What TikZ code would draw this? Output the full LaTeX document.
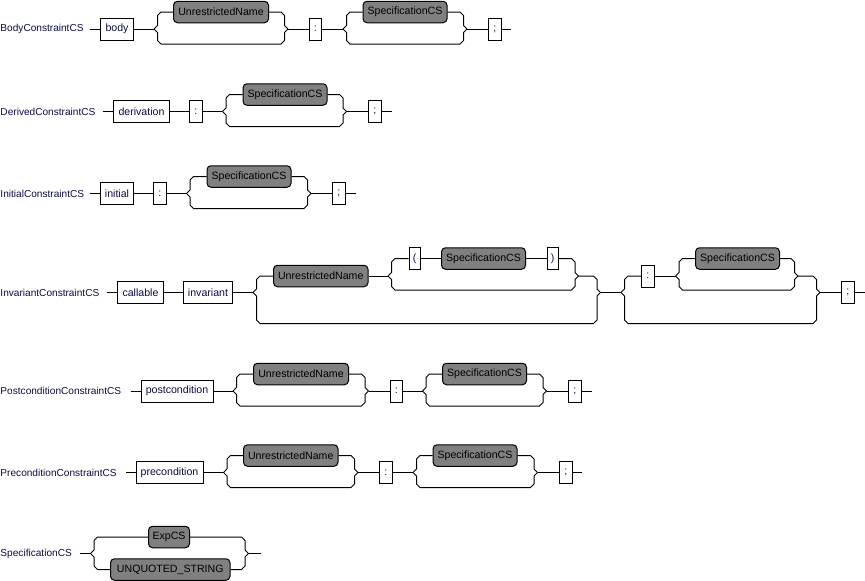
\documentclass[tikz,border=0pt]{standalone}
\usepackage{fontspec}
\setmainfont{Liberation Sans}
\usetikzlibrary{calc}
\definecolor{navy}{RGB}{12,12,68}
\definecolor{ntgray}{RGB}{128,128,128}
\newcommand\rrUpL[2]{\draw (#1) -- ++(3.5,-3.5) -- ($(#1 |- #2)+(3.5,3.5)$) -- ($(#1 |- #2)+(7,0)$) -- (#2);}
\newcommand\rrUpR[2]{\draw (#2) -- ($(#1 |- #2)+(-7,0)$) -- ($(#1 |- #2)+(-3.5,3.5)$) -- ($(#1)+(-3.5,-3.5)$) -- (#1);}
\newcommand\rrLow[3]{\draw (#1) -- ++(3.5,3.5) -- ($(#1)+(3.5,#3-3.5)$) -- ($(#1)+(7,#3)$) -- ($(#2)+(-7,#3)$) -- ($(#2)+(-3.5,#3-3.5)$) -- ($(#2)+(-3.5,3.5)$) -- (#2);}
\newcommand\rrLowL[2]{\draw (#1) -- ++(3.5,3.5) -- ($(#1 |- #2)+(3.5,-3.5)$) -- ($(#1 |- #2)+(7,0)$) -- (#2);}
\newcommand\rrLowR[2]{\draw (#2) -- ($(#1 |- #2)+(-7,0)$) -- ($(#1 |- #2)+(-3.5,-3.5)$) -- ($(#1)+(-3.5,3.5)$) -- (#1);}
\begin{document}
\begin{tikzpicture}[x=1pt,y=-1pt,line width=1pt,
  every node/.style={font=\fontsize{10.6}{12}\selectfont},
  lbl/.style={anchor=west,inner sep=0,text=navy,font=\fontsize{10.1}{12}\selectfont},
  term/.style={draw,fill=white,anchor=west,minimum height=22,inner sep=0,text=navy},
  nonterm/.style={draw,fill=ntgray,rounded corners=4,anchor=west,minimum height=21.5,inner sep=0,text=black}]
\useasboundingbox (0,0) rectangle (865,581);

% ---------- Row 1: BodyConstraintCS
\node[lbl] (L1) at (0,29) {BodyConstraintCS};
\coordinate (a1) at (90,29);
\node[term,minimum width=33] (body) at (100,29) {body};
\coordinate (s1a) at (154,29);
\node[nonterm,minimum width=95] (un1) at (173,12) {UnrestrictedName};
\coordinate (m1a) at (288,29);
\node[term,minimum width=12.5] (c1) at (308.5,29) {:};
\coordinate (s1b) at (343,29);
\node[nonterm,minimum width=84] (sp1) at (362.5,12) {SpecificationCS};
\coordinate (m1b) at (467,29);
\node[term,minimum width=12.5] (sc1) at (488,29) {;};
\coordinate (e1) at (511,29);
\draw (a1) -- (body.west);
\draw (body.east) -- (s1a);
\rrUpL{s1a}{un1.west} \rrUpR{m1a}{un1.east} \rrLow{s1a}{m1a}{15}
\draw (m1a) -- (c1.west);
\draw (c1.east) -- (s1b);
\rrUpL{s1b}{sp1.west} \rrUpR{m1b}{sp1.east} \rrLow{s1b}{m1b}{15}
\draw (m1b) -- (sc1.west);
\draw (sc1.east) -- (e1);

% ---------- Row 2: DerivedConstraintCS
\node[lbl] (L2) at (0,111.5) {DerivedConstraintCS};
\coordinate (a2) at (103,111.5);
\node[term,minimum width=56] (deriv) at (113,111.5) {derivation};
\node[term,minimum width=12.5] (c2) at (189,111.5) {:};
\coordinate (s2) at (222.5,111.5);
\node[nonterm,minimum width=84] (sp2) at (242.5,94.5) {SpecificationCS};
\coordinate (m2) at (346.5,111.5);
\node[term,minimum width=12.5] (sc2) at (368,111.5) {;};
\coordinate (e2) at (391.5,111.5);
\draw (a2) -- (deriv.west);
\draw (deriv.east) -- (c2.west);
\draw (c2.east) -- (s2);
\rrUpL{s2}{sp2.west} \rrUpR{m2}{sp2.east} \rrLow{s2}{m2}{15}
\draw (m2) -- (sc2.west);
\draw (sc2.east) -- (e2);

% ---------- Row 3: InitialConstraintCS
\node[lbl] (L3) at (0,193.5) {InitialConstraintCS};
\coordinate (a3) at (90,193.5);
\node[term,minimum width=33] (init) at (100,193.5) {initial};
\node[term,minimum width=12.5] (c3) at (153,193.5) {:};
\coordinate (s3) at (186.5,193.5);
\node[nonterm,minimum width=84] (sp3) at (206.5,176.5) {SpecificationCS};
\coordinate (m3) at (311,193.5);
\node[term,minimum width=12.5] (sc3) at (332,193.5) {;};
\coordinate (e3) at (356,193.5);
\draw (a3) -- (init.west);
\draw (init.east) -- (c3.west);
\draw (c3.east) -- (s3);
\rrUpL{s3}{sp3.west} \rrUpR{m3}{sp3.east} \rrLow{s3}{m3}{15}
\draw (m3) -- (sc3.west);
\draw (sc3.east) -- (e3);

% ---------- Row 4: InvariantConstraintCS
\node[lbl] (L4) at (0,292.5) {InvariantConstraintCS};
\coordinate (a4) at (107,292.5);
\node[term,minimum width=46] (call) at (117,292.5) {callable};
\node[term,minimum width=49] (inv) at (183,292.5) {invariant};
\coordinate (os1) at (253,292.5);
\node[nonterm,minimum width=94.5] (un4) at (273,276) {UnrestrictedName};
\coordinate (is1) at (388,276);
\node[term,minimum width=11.5] (lp) at (408.5,258.5) {(};
\node[nonterm,minimum width=84] (sp4a) at (441,258.5) {SpecificationCS};
\node[term,minimum width=11.5] (rp) at (546.5,258.5) {)};
\coordinate (im1) at (578.5,276);
\coordinate (om1) at (600.5,292.5);
\coordinate (os2) at (621,292.5);
\node[term,minimum width=12.5] (c4) at (641,276) {:};
\coordinate (is2) at (675.5,276);
\node[nonterm,minimum width=84] (sp4b) at (695,258.5) {SpecificationCS};
\coordinate (im2) at (798,276);
\coordinate (om2) at (820,292.5);
\node[term,minimum width=12.5] (sc4) at (841,292.5) {;};
\coordinate (e4) at (865,292.5);
\draw (a4) -- (call.west);
\draw (call.east) -- (inv.west);
\draw (inv.east) -- (os1);
\rrUpL{os1}{un4.west}
\draw (un4.east) -- (is1);
\rrUpL{is1}{lp.west}
\draw (lp.east) -- (sp4a.west);
\draw (sp4a.east) -- (rp.west);
\rrUpR{im1}{rp.east}
\rrLow{is1}{im1}{14}
\rrUpR{om1}{im1}
\rrLow{os1}{om1}{31}
\draw (om1) -- (os2);
\rrUpL{os2}{c4.west}
\draw (c4.east) -- (is2);
\rrUpL{is2}{sp4b.west} \rrUpR{im2}{sp4b.east} \rrLow{is2}{im2}{14}
\rrUpR{om2}{im2}
\rrLow{os2}{om2}{31}
\draw (om2) -- (sc4.west);
\draw (sc4.east) -- (e4);

% ---------- Row 5: PostconditionConstraintCS
\node[lbl] (L5) at (0,391) {PostconditionConstraintCS};
\coordinate (a5) at (130.5,391);
\node[term,minimum width=72] (post) at (140.5,391) {postcondition};
\coordinate (s5a) at (233,391);
\node[nonterm,minimum width=95] (un5) at (253,374) {UnrestrictedName};
\coordinate (m5a) at (368.5,391);
\node[term,minimum width=12.5] (c5) at (389.5,391) {:};
\coordinate (s5b) at (422.5,391);
\node[nonterm,minimum width=84] (sp5) at (442,374) {SpecificationCS};
\coordinate (m5b) at (546.5,391);
\node[term,minimum width=12.5] (sc5) at (568,391) {;};
\coordinate (e5) at (591.5,391);
\draw (a5) -- (post.west);
\draw (post.east) -- (s5a);
\rrUpL{s5a}{un5.west} \rrUpR{m5a}{un5.east} \rrLow{s5a}{m5a}{15}
\draw (m5a) -- (c5.west);
\draw (c5.east) -- (s5b);
\rrUpL{s5b}{sp5.west} \rrUpR{m5b}{sp5.east} \rrLow{s5b}{m5b}{15}
\draw (m5b) -- (sc5.west);
\draw (sc5.east) -- (e5);

% ---------- Row 6: PreconditionConstraintCS
\node[lbl] (L6) at (0,472.5) {PreconditionConstraintCS};
\coordinate (a6) at (126,472.5);
\node[term,minimum width=67] (pre) at (135.5,472.5) {precondition};
\coordinate (s6a) at (223.5,472.5);
\node[nonterm,minimum width=94.5] (un6) at (243,455.5) {UnrestrictedName};
\coordinate (m6a) at (358,472.5);
\node[term,minimum width=12.5] (c6) at (379,472.5) {:};
\coordinate (s6b) at (413,472.5);
\node[nonterm,minimum width=84] (sp6) at (432.5,455.5) {SpecificationCS};
\coordinate (m6b) at (537.5,472.5);
\node[term,minimum width=12.5] (sc6) at (559,472.5) {;};
\coordinate (e6) at (582,472.5);
\draw (a6) -- (pre.west);
\draw (pre.east) -- (s6a);
\rrUpL{s6a}{un6.west} \rrUpR{m6a}{un6.east} \rrLow{s6a}{m6a}{15}
\draw (m6a) -- (c6.west);
\draw (c6.east) -- (s6b);
\rrUpL{s6b}{sp6.west} \rrUpR{m6b}{sp6.east} \rrLow{s6b}{m6b}{15}
\draw (m6b) -- (sc6.west);
\draw (sc6.east) -- (e6);

% ---------- Row 7: SpecificationCS
\node[lbl] (L7) at (0,553.5) {SpecificationCS};
\coordinate (a7) at (80,553.5);
\coordinate (s7) at (90.5,553.5);
\node[nonterm,minimum width=41] (exp) at (148,537) {ExpCS};
\node[nonterm,minimum width=119.5] (unq) at (110,569.5) {UNQUOTED\_STRING};
\coordinate (m7) at (248.5,553.5);
\coordinate (e7) at (260.5,553.5);
\draw (a7) -- (s7);
\rrUpL{s7}{exp.west} \rrUpR{m7}{exp.east}
\rrLowL{s7}{unq.west} \rrLowR{m7}{unq.east}
\draw (m7) -- (e7);
\end{tikzpicture}
\end{document}
